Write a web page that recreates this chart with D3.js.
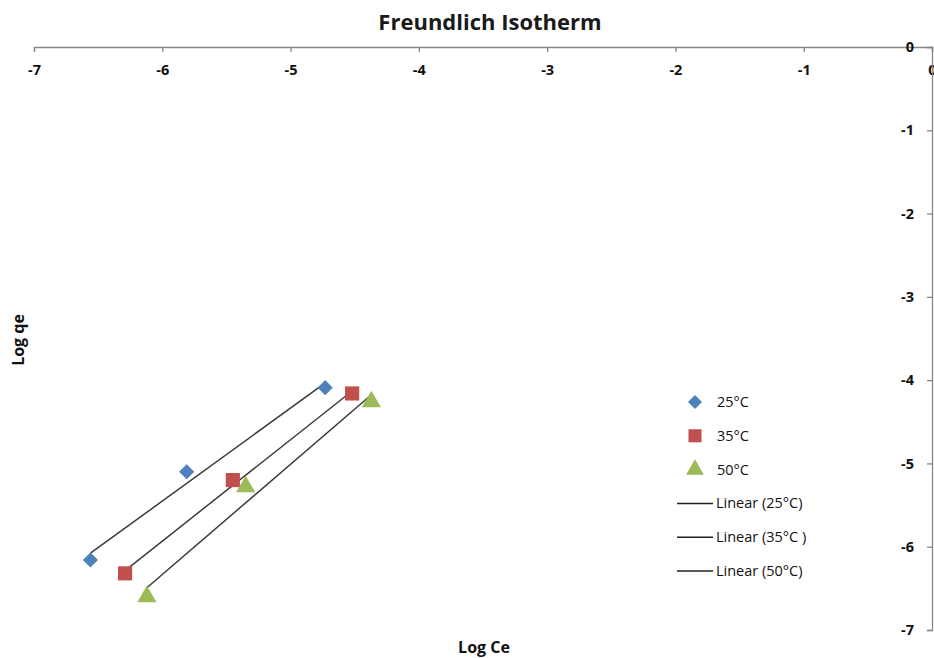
<!DOCTYPE html>
<html>
<head>
<meta charset="utf-8">
<script src="https://cdn.jsdelivr.net/npm/d3@7"></script>
<style>
  html, body { margin: 0; padding: 0; background: #fff; }
  svg { display: block; }
</style>
</head>
<body>
<div id="chart"></div>
<script>
// ---- data ----
const seriesNames = ["25°C", "35°C", "50°C"];
const trendNames = ["Linear (25°C)", "Linear (35°C )", "Linear (50°C)"];
const logCe25 = [-6.56, -5.81, -4.73];
const logQe25 = [-6.16, -5.10, -4.09];
const logCe35 = [-6.29, -5.45, -4.52];
const logQe35 = [-6.32, -5.20, -4.16];
const logCe50 = [-6.12, -5.35, -4.37];
const logQe50 = [-6.60, -5.28, -4.26];
const xTicks = [-7, -6, -5, -4, -3, -2, -1, 0];
const yTicks = [0, -1, -2, -3, -4, -5, -6, -7];

const W = 934, H = 658;
const colors = ["#4f81bd", "#c0504d", "#9bbb59"];
const symbols = [d3.symbolSquare, d3.symbolSquare, d3.symbolTriangle];
const symSizes = [115, 200, 160];
const symRot = [45, 0, 0];

const series = [
  { name: seriesNames[0], trend: trendNames[0], xs: logCe25, ys: logQe25 },
  { name: seriesNames[1], trend: trendNames[1], xs: logCe35, ys: logQe35 },
  { name: seriesNames[2], trend: trendNames[2], xs: logCe50, ys: logQe50 }
];

const svg = d3.select("#chart").append("svg")
  .attr("width", W).attr("height", H);

const x = d3.scaleLinear().domain([-7, 0]).range([34, 932]);
const y = d3.scaleLinear().domain([0, -7]).range([47, 630]);

const axisColor = "#878787";
const tickFont = "'Open Sans', 'DejaVu Sans', sans-serif";
const fmt = d => String(d);

// Title
svg.append("text")
  .attr("x", 490).attr("y", 30)
  .attr("text-anchor", "middle")
  .attr("font-family", tickFont)
  .attr("font-weight", "bold")
  .attr("font-size", 22)
  .attr("fill", "#1a1a1a")
  .text("Freundlich Isotherm");

// X axis on top (at y = 0)
const xAxis = d3.axisBottom(x).tickValues(xTicks).tickSize(5).tickPadding(13)
  .tickFormat(fmt);
const gx = svg.append("g").attr("transform", `translate(0,${y(0)})`).call(xAxis);
gx.select(".domain").attr("stroke", axisColor).attr("stroke-width", 1.3);
gx.selectAll(".tick line").attr("stroke", axisColor).attr("stroke-width", 1.3);
gx.selectAll(".tick text")
  .attr("font-family", tickFont).attr("font-weight", "bold")
  .attr("font-size", 14.5).attr("fill", "#111");

// Y axis on right (at x = 0)
const yAxis = d3.axisLeft(y).tickValues(yTicks).tickSize(5).tickPadding(13)
  .tickFormat(fmt);
const gy = svg.append("g").attr("transform", `translate(${x(0)},0)`).call(yAxis);
gy.select(".domain").attr("stroke", axisColor).attr("stroke-width", 1.3);
gy.selectAll(".tick line").attr("stroke", axisColor).attr("stroke-width", 1.3);
gy.selectAll(".tick text")
  .attr("font-family", tickFont).attr("font-weight", "bold")
  .attr("font-size", 14.5).attr("fill", "#111");

// Axis titles
svg.append("text")
  .attr("transform", "translate(24,340) rotate(-90)")
  .attr("text-anchor", "middle")
  .attr("font-family", tickFont).attr("font-weight", "bold")
  .attr("font-size", 16).attr("fill", "#111")
  .text("Log qe");
svg.append("text")
  .attr("x", 484).attr("y", 653)
  .attr("text-anchor", "middle")
  .attr("font-family", tickFont).attr("font-weight", "bold")
  .attr("font-size", 16).attr("fill", "#111")
  .text("Log Ce");

// Trend lines (least squares fit)
function fit(xs, ys) {
  const mx = d3.mean(xs), my = d3.mean(ys);
  let sxy = 0, sxx = 0;
  xs.forEach((v, i) => { sxy += (v - mx) * (ys[i] - my); sxx += (v - mx) * (v - mx); });
  const m = sxy / sxx, b = my - m * mx;
  const x0 = d3.min(xs), x1 = d3.max(xs);
  return [[x0, m * x0 + b], [x1, m * x1 + b]];
}
const line = d3.line().x(d => x(d[0])).y(d => y(d[1]));

series.forEach((s, i) => {
  svg.append("path")
    .attr("d", line(fit(s.xs, s.ys)))
    .attr("stroke", "#3a3a3a").attr("stroke-width", 1.5).attr("fill", "none");
});

// Markers
series.forEach((s, i) => {
  svg.append("g").selectAll("path")
    .data(s.xs.map((v, j) => [v, s.ys[j]]))
    .join("path")
    .attr("d", d3.symbol().type(symbols[i]).size(symSizes[i]))
    .attr("transform", d => `translate(${x(d[0])},${y(d[1])}) rotate(${symRot[i]})`)
    .attr("fill", colors[i]);
});

// Legend
const legendFont = "'Open Sans', 'DejaVu Sans', sans-serif";
const lg = svg.append("g");
const rowY = i => 402 + i * 33.8;
series.forEach((s, i) => {
  lg.append("path")
    .attr("d", d3.symbol().type(symbols[i]).size(symSizes[i] * 0.85)())
    .attr("transform", `translate(695,${rowY(i)}) rotate(${symRot[i]})`)
    .attr("fill", colors[i]);
  lg.append("text")
    .attr("x", 717).attr("y", rowY(i)).attr("dy", "0.35em")
    .attr("font-family", legendFont).attr("font-size", 14.5).attr("fill", "#111")
    .text(s.name);
});
series.forEach((s, i) => {
  const yy = rowY(i + 3);
  lg.append("line")
    .attr("x1", 677).attr("x2", 713).attr("y1", yy).attr("y2", yy)
    .attr("stroke", "#222").attr("stroke-width", 1.5);
  lg.append("text")
    .attr("x", 716).attr("y", yy).attr("dy", "0.35em")
    .attr("font-family", legendFont).attr("font-size", 14.5).attr("fill", "#111")
    .text(s.trend);
});
</script>
</body>
</html>
